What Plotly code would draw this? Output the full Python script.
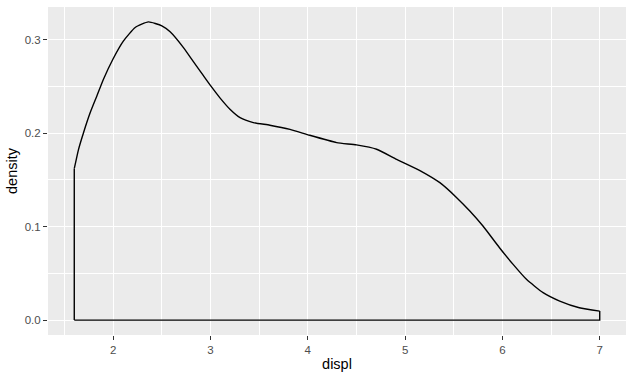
import plotly.graph_objects as go

# Density curve of displ
displ = [1.60, 1.644, 1.695, 1.764, 1.833, 1.90, 1.997, 2.106, 2.226, 2.362, 2.50, 2.585,
         2.722, 2.824, 2.927, 3.003, 3.099, 3.20, 3.304, 3.44, 3.61, 3.817, 4.02, 4.297,
         4.50, 4.707, 4.913, 5.152, 5.357, 5.53, 5.665, 5.80, 5.97, 6.11, 6.247, 6.418,
         6.589, 6.79, 7.0]
density = [0.162, 0.1827, 0.2005, 0.222, 0.240, 0.2577, 0.2791, 0.2987, 0.313, 0.319, 0.3148,
           0.3084, 0.2915, 0.2765, 0.2615, 0.2505, 0.2375, 0.2256, 0.2166, 0.2113, 0.2085,
           0.204, 0.1977, 0.1899, 0.1874, 0.1828, 0.172, 0.160, 0.147, 0.131, 0.1167, 0.1006,
           0.0774, 0.0596, 0.0436, 0.0293, 0.0203, 0.0132, 0.0096]

x_ticks = [2, 3, 4, 5, 6, 7]
y_ticks = [0.0, 0.1, 0.2, 0.3]

x_min, x_max = displ[0], displ[-1]
x_pad = (x_max - x_min) * 0.05
y_max = max(density)
y_pad = y_max * 0.05

fig = go.Figure()
# outline edges (left vertical, baseline, right vertical)
fig.add_trace(go.Scatter(
    x=[x_min, x_min, None, x_min, x_max, x_max],
    y=[density[0], 0, None, 0, 0, density[-1]],
    mode="lines", line=dict(color="black", width=1.4), hoverinfo="skip",
    showlegend=False))
# density curve
fig.add_trace(go.Scatter(
    x=displ, y=density, mode="lines",
    line=dict(color="black", width=1.4, shape="spline", smoothing=0.5),
    showlegend=False))

font_family = "Liberation Sans, Arial, sans-serif"
axis_common = dict(
    showgrid=True, gridcolor="white", gridwidth=1.1,
    zeroline=False, showline=False,
    ticks="outside", ticklen=4, tickwidth=1, tickcolor="#333333",
    tickfont=dict(family=font_family, size=11.5, color="#4D4D4D"),
)

fig.update_layout(
    width=634, height=377,
    margin=dict(l=48, r=8, t=7, b=42),
    plot_bgcolor="#EBEBEB", paper_bgcolor="white",
    xaxis=dict(axis_common, range=[x_min - x_pad, x_max + x_pad],
               tickvals=x_ticks, ticktext=[str(v) for v in x_ticks],
               minor=dict(showgrid=True, gridcolor="white", gridwidth=0.5, dtick=0.5, tick0=1.5),
               title=dict(text="displ", standoff=4,
                          font=dict(family=font_family, size=14.5, color="black"))),
    yaxis=dict(axis_common, range=[-y_pad, y_max + y_pad],
               tickvals=y_ticks, ticktext=[f"{v:.1f}" for v in y_ticks],
               minor=dict(showgrid=True, gridcolor="white", gridwidth=0.5, dtick=0.05, tick0=0.05),
               title=dict(text="density", standoff=3,
                          font=dict(family=font_family, size=14.5, color="black"))),
)

fig.write_html("out.html")
